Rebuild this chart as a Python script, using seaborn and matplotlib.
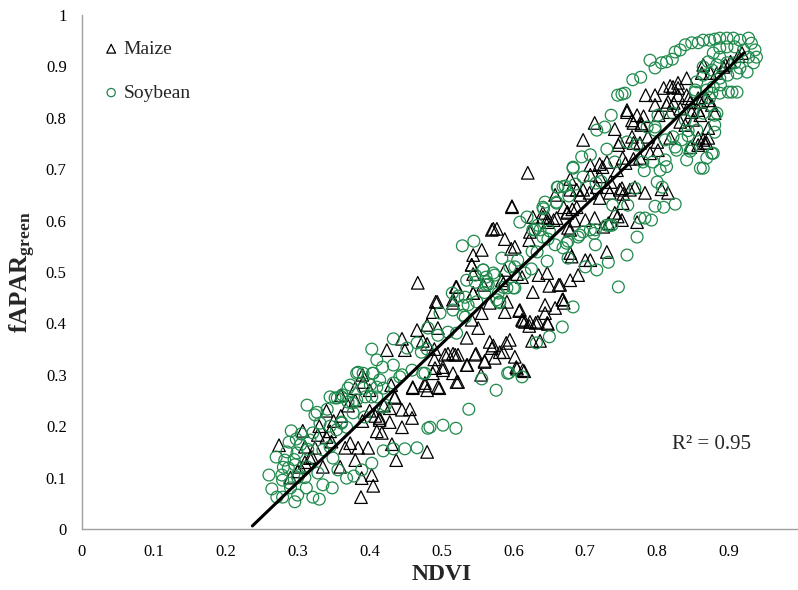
import matplotlib
matplotlib.use("Agg")
import matplotlib.pyplot as plt
import seaborn as sns
import pandas as pd

# ---------------- data ----------------
maize_pts = [
    (0.274,0.163),(0.307,0.191),(0.328,0.183),(0.340,0.179),(0.347,0.170),(0.324,0.158),(0.317,0.138),
    (0.303,0.121),(0.300,0.112),(0.335,0.121),(0.359,0.121),(0.366,0.158),(0.373,0.167),(0.384,0.158),
    (0.398,0.158),(0.380,0.134),(0.389,0.099),(0.403,0.105),(0.405,0.084),(0.388,0.062),(0.437,0.134),
    (0.431,0.165),(0.417,0.187),(0.410,0.190),(0.445,0.198),(0.459,0.216),(0.445,0.232),(0.456,0.233),
    (0.428,0.208),(0.414,0.212),(0.408,0.220),(0.391,0.286),(0.380,0.274),(0.435,0.255),(0.460,0.276),
    (0.477,0.284),(0.480,0.150),(0.330,0.200),(0.345,0.190),(0.350,0.210),(0.360,0.220),(0.370,0.240),
    (0.320,0.140),(0.310,0.130),(0.290,0.100),(0.310,0.160),(0.340,0.230),(0.360,0.260),(0.380,0.250),
    (0.390,0.300),(0.400,0.270),(0.420,0.240),(0.430,0.280),
    (0.467,0.479),(0.542,0.514),(0.520,0.471),(0.492,0.442),(0.488,0.422),(0.516,0.446),(0.544,0.459),
    (0.556,0.420),(0.542,0.407),(0.466,0.387),(0.480,0.397),(0.495,0.391),(0.445,0.370),(0.424,0.348),
    (0.449,0.348),(0.474,0.366),(0.480,0.360),(0.505,0.339),(0.519,0.339),(0.547,0.339),(0.535,0.319),
    (0.560,0.325),(0.567,0.364),(0.572,0.357),(0.586,0.344),(0.595,0.368),(0.602,0.335),(0.613,0.309),
    (0.605,0.312),(0.608,0.424),(0.612,0.407),(0.591,0.442),(0.567,0.440),(0.551,0.391),(0.535,0.372),
    (0.521,0.286),(0.495,0.276),(0.480,0.270),(0.477,0.279),(0.460,0.274),(0.502,0.309),(0.491,0.313),
    (0.488,0.303),(0.435,0.257),(0.428,0.235),(0.414,0.216),(0.400,0.230),(0.390,0.210),
    (0.620,0.693),(0.598,0.626),(0.570,0.582),(0.577,0.584),(0.588,0.564),(0.556,0.543),(0.544,0.533),
    (0.542,0.514),(0.602,0.549),(0.597,0.545),(0.622,0.562),(0.623,0.578),(0.627,0.607),(0.641,0.607),
    (0.648,0.605),(0.660,0.605),(0.675,0.617),(0.688,0.626),(0.676,0.586),(0.685,0.600),(0.700,0.601),
    (0.706,0.654),(0.693,0.650),(0.707,0.708),(0.720,0.710),(0.720,0.644),(0.734,0.654),(0.748,0.660),
    (0.751,0.601),(0.730,0.539),(0.707,0.523),(0.700,0.523),(0.679,0.537),(0.681,0.530),(0.690,0.494),
    (0.679,0.484),(0.665,0.475),(0.650,0.473),(0.627,0.461),(0.647,0.498),(0.635,0.494),(0.612,0.490),
    (0.605,0.496),(0.588,0.504),(0.584,0.484),(0.586,0.478),(0.558,0.475),(0.544,0.496),(0.521,0.471),
    (0.494,0.442),(0.516,0.440),(0.544,0.459),(0.588,0.422),(0.609,0.426),(0.644,0.436),(0.658,0.430),
    (0.668,0.446),(0.670,0.440),(0.644,0.420),(0.647,0.401),(0.623,0.403),(0.616,0.403),(0.634,0.403),
    (0.663,0.475),(0.669,0.447),(0.648,0.399),(0.631,0.401),(0.622,0.395),(0.613,0.405),(0.626,0.366),
    (0.637,0.366),(0.590,0.362),(0.581,0.344),(0.570,0.352),(0.574,0.333),(0.604,0.315),(0.615,0.307),
    (0.560,0.327),(0.548,0.341),(0.536,0.319),(0.523,0.339),(0.516,0.341),(0.509,0.341),(0.516,0.303),
    (0.523,0.286),(0.555,0.300),(0.502,0.315),(0.497,0.274),(0.490,0.330),(0.490,0.350),(0.598,0.628),
    (0.572,0.584),
    (0.697,0.757),(0.713,0.790),(0.741,0.778),(0.758,0.811),(0.772,0.805),(0.781,0.803),(0.784,0.844),
    (0.797,0.844),(0.809,0.858),(0.822,0.860),(0.829,0.858),(0.813,0.825),(0.823,0.829),(0.841,0.844),
    (0.767,0.790),(0.778,0.786),(0.765,0.763),(0.748,0.753),(0.746,0.747),(0.767,0.751),(0.776,0.751),
    (0.787,0.763),(0.800,0.753),(0.801,0.737),(0.790,0.731),(0.776,0.722),(0.767,0.720),(0.752,0.722),
    (0.756,0.712),(0.744,0.698),(0.730,0.714),(0.724,0.704),(0.707,0.689),(0.720,0.686),(0.716,0.665),
    (0.730,0.665),(0.735,0.675),(0.751,0.663),(0.762,0.660),(0.769,0.665),(0.783,0.654),(0.753,0.652),
    (0.752,0.634),(0.741,0.615),(0.745,0.608),(0.772,0.597),(0.732,0.595),(0.725,0.588),(0.713,0.605),
    (0.679,0.582),(0.675,0.615),(0.682,0.622),(0.670,0.626),(0.658,0.650),(0.679,0.681),(0.688,0.660),
    (0.697,0.660),(0.679,0.660),(0.641,0.615),(0.648,0.597),(0.656,0.601),(0.815,0.654),(0.806,0.661),
    (0.818,0.761),(0.857,0.761),(0.871,0.761),(0.866,0.751),(0.871,0.780),(0.846,0.743),(0.832,0.792),
    (0.839,0.786),(0.850,0.796),(0.857,0.815),(0.880,0.809),(0.871,0.834),(0.857,0.838),(0.846,0.830),
    (0.918,0.926),(0.913,0.920),(0.902,0.909),(0.895,0.903),(0.892,0.899),(0.883,0.887),(0.874,0.887),
    (0.864,0.903),(0.862,0.887),(0.841,0.877),(0.829,0.868),(0.818,0.862),(0.867,0.840),(0.876,0.825),
    (0.860,0.831),(0.844,0.838),(0.829,0.844),(0.815,0.831),(0.797,0.825),(0.758,0.815),(0.765,0.795),
    (0.778,0.789),(0.802,0.805),(0.818,0.811),(0.832,0.818),(0.848,0.811),(0.860,0.805),(0.864,0.757),
    (0.857,0.747),(0.869,0.751),
]

soy_pts = [
    (0.313,0.241),(0.341,0.233),(0.324,0.222),(0.327,0.227),(0.291,0.191),(0.288,0.169),(0.298,0.175),
    (0.304,0.164),(0.282,0.134),(0.260,0.105),(0.264,0.078),(0.271,0.062),(0.279,0.062),(0.296,0.053),
    (0.321,0.062),(0.330,0.058),(0.348,0.080),(0.335,0.086),(0.312,0.080),(0.300,0.066),(0.289,0.089),
    (0.279,0.095),(0.278,0.105),(0.287,0.119),(0.296,0.125),(0.313,0.121),(0.328,0.109),(0.349,0.138),
    (0.356,0.115),(0.368,0.099),(0.378,0.103),(0.389,0.115),(0.403,0.128),(0.419,0.152),(0.433,0.156),
    (0.449,0.156),(0.466,0.158),(0.481,0.196),(0.321,0.187),(0.331,0.206),(0.345,0.200),(0.354,0.193),
    (0.361,0.208),(0.368,0.198),(0.317,0.173),(0.335,0.154),(0.345,0.160),(0.314,0.155),(0.299,0.148),
    (0.345,0.257),(0.352,0.255),(0.362,0.261),(0.370,0.247),(0.373,0.280),(0.382,0.251),(0.394,0.257),
    (0.401,0.280),(0.410,0.257),(0.422,0.241),(0.382,0.303),(0.404,0.303),(0.414,0.290),(0.433,0.284),
    (0.442,0.296),(0.474,0.303),(0.377,0.226),(0.393,0.218),(0.270,0.140),(0.285,0.150),(0.290,0.080),
    (0.300,0.100),(0.310,0.100),(0.280,0.120),(0.295,0.135),(0.305,0.185),
    (0.403,0.350),(0.410,0.329),(0.418,0.315),(0.433,0.370),(0.452,0.352),(0.466,0.362),(0.472,0.344),
    (0.480,0.350),(0.481,0.391),(0.495,0.377),(0.509,0.383),(0.521,0.381),(0.498,0.420),(0.516,0.426),
    (0.515,0.459),(0.523,0.453),(0.533,0.451),(0.537,0.436),(0.530,0.416),(0.547,0.494),(0.558,0.504),
    (0.572,0.498),(0.563,0.481),(0.579,0.459),(0.586,0.470),(0.581,0.442),(0.602,0.469),(0.616,0.498),
    (0.602,0.510),(0.549,0.442),(0.560,0.460),(0.384,0.305),(0.391,0.303),(0.405,0.303),(0.433,0.319),
    (0.445,0.300),(0.459,0.309),(0.477,0.303),(0.419,0.274),(0.410,0.276),(0.391,0.274),(0.370,0.274),
    (0.361,0.257),(0.376,0.245),(0.355,0.255),(0.361,0.206),(0.419,0.237),(0.403,0.257),(0.538,0.233),
    (0.576,0.270),(0.556,0.292),(0.592,0.303),(0.612,0.296),(0.484,0.198),(0.502,0.202),(0.520,0.196),
    (0.529,0.551),(0.545,0.560),(0.609,0.597),(0.619,0.607),(0.627,0.582),(0.644,0.636),(0.641,0.626),
    (0.660,0.636),(0.661,0.665),(0.672,0.667),(0.686,0.671),(0.697,0.685),(0.683,0.704),(0.715,0.673),
    (0.722,0.676),(0.738,0.630),(0.737,0.591),(0.730,0.591),(0.714,0.582),(0.714,0.553),(0.732,0.519),
    (0.716,0.504),(0.700,0.510),(0.746,0.471),(0.758,0.533),(0.683,0.432),(0.668,0.393),(0.637,0.582),
    (0.650,0.580),(0.658,0.553),(0.669,0.547),(0.676,0.560),(0.690,0.568),(0.697,0.578),(0.676,0.527),
    (0.647,0.521),(0.633,0.539),(0.626,0.540),(0.606,0.523),(0.595,0.510),(0.584,0.527),(0.574,0.494),
    (0.558,0.504),(0.562,0.490),(0.547,0.480),(0.535,0.484),(0.565,0.476),(0.591,0.469),(0.600,0.469),
    (0.625,0.506),(0.577,0.446),(0.581,0.440),(0.530,0.435),(0.533,0.412),(0.562,0.475),(0.650,0.374),
    (0.632,0.362),(0.594,0.304),
    (0.745,0.844),(0.751,0.846),(0.736,0.805),(0.727,0.782),(0.716,0.776),(0.730,0.739),(0.707,0.728),
    (0.695,0.724),(0.683,0.702),(0.662,0.665),(0.669,0.666),(0.677,0.648),(0.660,0.634),(0.642,0.623),
    (0.634,0.591),(0.630,0.582),(0.641,0.568),(0.648,0.564),(0.674,0.556),(0.692,0.572),(0.707,0.582),
    (0.712,0.575),(0.734,0.591),(0.772,0.568),(0.776,0.605),(0.783,0.605),(0.792,0.601),(0.797,0.628),
    (0.809,0.626),(0.825,0.632),(0.807,0.665),(0.800,0.675),(0.769,0.663),(0.759,0.630),(0.741,0.714),
    (0.758,0.753),(0.772,0.747),(0.786,0.782),(0.797,0.776),(0.811,0.757),(0.822,0.763),(0.827,0.737),
    (0.834,0.757),(0.848,0.741),(0.841,0.718),(0.864,0.702),(0.869,0.722),(0.878,0.731),(0.880,0.772),
    (0.880,0.786),(0.855,0.776),(0.883,0.809),(0.864,0.809),(0.850,0.811),(0.839,0.796),(0.822,0.809),
    (0.801,0.805),(0.797,0.782),(0.853,0.854),(0.876,0.848),(0.888,0.864),(0.899,0.850),(0.843,0.775),
    (0.811,0.718),(0.794,0.714),(0.780,0.714),(0.782,0.697),(0.804,0.698),(0.813,0.705),(0.825,0.743),
    (0.790,0.912),(0.797,0.897),(0.806,0.907),(0.813,0.909),(0.821,0.914),(0.825,0.928),(0.832,0.932),
    (0.839,0.942),(0.848,0.946),(0.857,0.946),(0.864,0.951),(0.873,0.951),(0.880,0.953),(0.887,0.955),
    (0.897,0.955),(0.906,0.955),(0.915,0.951),(0.927,0.955),(0.931,0.945),(0.936,0.932),(0.938,0.918),
    (0.934,0.907),(0.927,0.918),(0.920,0.932),(0.908,0.938),(0.897,0.938),(0.887,0.936),(0.878,0.926),
    (0.887,0.918),(0.871,0.909),(0.864,0.899),(0.876,0.893),(0.883,0.903),(0.897,0.907),(0.908,0.907),
    (0.915,0.897),(0.925,0.889),(0.911,0.887),(0.898,0.883),(0.887,0.877),(0.878,0.860),(0.869,0.854),
    (0.887,0.848),(0.904,0.850),(0.911,0.850),(0.873,0.839),(0.862,0.837),(0.853,0.850),(0.864,0.883),
    (0.855,0.870),(0.880,0.805),(0.876,0.731),(0.860,0.702),(0.846,0.735),(0.843,0.765),(0.766,0.874),
    (0.777,0.879),(0.755,0.848),
]

maize_ndvi = [p[0] for p in maize_pts]
maize_fapar = [p[1] for p in maize_pts]
soy_ndvi = [p[0] for p in soy_pts]
soy_fapar = [p[1] for p in soy_pts]

# regression line (NDVI range of the fitted line, slope and intercept)
fit_ndvi = [0.237, 0.921]
fit_slope = 1.346
fit_intercept = -0.313
r2_text = "R\u00b2 = 0.95"

x_ticks = [0, 0.1, 0.2, 0.3, 0.4, 0.5, 0.6, 0.7, 0.8, 0.9]
y_ticks = [0, 0.1, 0.2, 0.3, 0.4, 0.5, 0.6, 0.7, 0.8, 0.9, 1]

# ---------------- styling ----------------
sns.set_style("white")
plt.rcParams["font.family"] = ["Liberation Serif", "DejaVu Serif"]
plt.rcParams["mathtext.fontset"] = "custom"
plt.rcParams["mathtext.rm"] = "Liberation Serif"
plt.rcParams["mathtext.bf"] = "Liberation Serif:bold"
plt.rcParams["mathtext.it"] = "Liberation Serif:italic"

GREEN = "#1f8a4c"
AXIS_GRAY = "#a0a0a0"

fig = plt.figure(figsize=(7.98, 5.90), dpi=100)
ax = fig.add_axes([82/798, 1 - 529/590, 719/798, 514/590])

df_m = pd.DataFrame({"NDVI": maize_ndvi, "fAPAR": maize_fapar})
df_s = pd.DataFrame({"NDVI": soy_ndvi, "fAPAR": soy_fapar})

sns.scatterplot(data=df_m, x="NDVI", y="fAPAR", marker="^", s=82, ax=ax, label="Maize", zorder=2)
sns.scatterplot(data=df_s, x="NDVI", y="fAPAR", marker="o", s=72, ax=ax, label="Soybean", zorder=3)
colls = ax.collections
colls[0].set_facecolor("none"); colls[0].set_edgecolor("black"); colls[0].set_linewidth(0.9)
colls[1].set_facecolor("none"); colls[1].set_edgecolor(GREEN); colls[1].set_linewidth(0.9)

fit_y = [fit_slope * x + fit_intercept for x in fit_ndvi]
sns.lineplot(x=fit_ndvi, y=fit_y, ax=ax, color="black", linewidth=2.2, zorder=4)

ax.set_xlim(0, 1)
ax.set_ylim(0, 1)
ax.set_xticks(x_ticks)
ax.set_xticklabels([f"{t:g}" for t in x_ticks])
ax.set_yticks(y_ticks)
ax.set_yticklabels([f"{t:g}" for t in y_ticks])
ax.tick_params(axis="both", direction="out", length=5, width=1, color=AXIS_GRAY,
               labelsize=12, labelcolor="black", pad=6)
for side in ["top", "right"]:
    ax.spines[side].set_visible(False)
for side in ["left", "bottom"]:
    ax.spines[side].set_color(AXIS_GRAY)
    ax.spines[side].set_linewidth(1)

ax.set_xlabel("NDVI", fontsize=17, fontweight="bold", labelpad=3)
ax.set_ylabel(r"$\mathbf{fAPAR_{green}}$", fontsize=18, labelpad=6)

ax.text(0.82, 0.165, r2_text, transform=ax.transAxes, fontsize=15, ha="left", va="center")

leg = ax.legend(loc="upper left", bbox_to_anchor=(0.0, 0.985), frameon=False, fontsize=14,
                handletextpad=0.05, labelspacing=1.35, markerscale=0.7, handlelength=1.2)

fig.savefig("out.png", dpi=100)
